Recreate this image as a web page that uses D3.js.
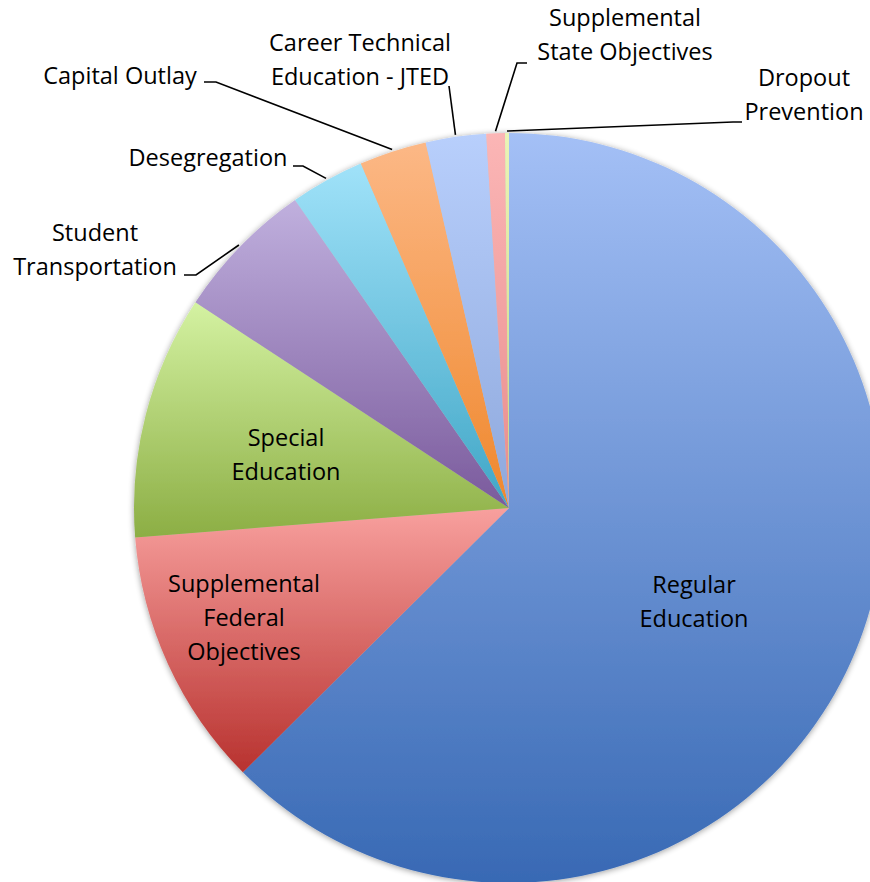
<!DOCTYPE html>
<html>
<head>
<meta charset="utf-8">
<script src="https://cdn.jsdelivr.net/npm/d3@7"></script>
<style>
  body { margin: 0; background: #fff; }
  svg { display: block; }
  .lbl { font-family: "Open Sans", sans-serif; font-size: 23.5px; fill: #000; }
  .leader { fill: none; stroke: #000; stroke-width: 1.6; }
</style>
</head>
<body>
<div id="chart"></div>
<script>
// Budget share by program (percent)
const categories = [
  "Regular Education",
  "Supplemental Federal Objectives",
  "Special Education",
  "Student Transportation",
  "Desegregation",
  "Capital Outlay",
  "Career Technical Education - JTED",
  "Supplemental State Objectives",
  "Dropout Prevention"
];
const values = [62.6, 11.2, 10.5, 6.1, 3.2, 2.9, 2.6, 0.8, 0.17];
const labelLines = [
  ["Regular", "Education"],
  ["Supplemental", "Federal", "Objectives"],
  ["Special", "Education"],
  ["Student", "Transportation"],
  ["Desegregation"],
  ["Capital Outlay"],
  ["Career Technical", "Education - JTED"],
  ["Supplemental", "State Objectives"],
  ["Dropout", "Prevention"]
];

// gradient top / bottom colours per slice
const colorsTop = ["#a4c0f6", "#f8a09e", "#d4f2a2", "#c0b0de", "#a0e2f9", "#fcb886", "#b8cffc", "#fbb6b6", "#eaf4b6"];
const colorsBottom = ["#3869b4", "#b8322f", "#8cae44", "#7a5a9c", "#40a6c6", "#ef872c", "#8ea8dc", "#e88c8c", "#c8d884"];

// label placement (text centre x, first line y, elbow points of leader)
const labelPos = [
  { x: 694, y: 585, leader: null },
  { x: 244, y: 584, leader: null },
  { x: 286, y: 438, leader: null },
  { x: 95, y: 233, leader: [[184, 275], [196, 275]] },
  { x: 208, y: 158, leader: [[293, 166], [303, 166]] },
  { x: 120, y: 76, leader: [[204, 82], [216, 82]] },
  { x: 360, y: 43, leader: [[449, 86]] },
  { x: 625, y: 18, leader: [[527, 63], [517, 63]] },
  { x: 804, y: 78, leader: [[742, 122], [733, 122]] }
];

const width = 870, height = 882;
const cx = 509, cy = 508, radius = 375;
const lineH = 34;

const svg = d3.select("#chart").append("svg")
  .attr("width", width)
  .attr("height", height);

const defs = svg.append("defs");

const shadow = defs.append("filter").attr("id", "shadow")
  .attr("x", "-10%").attr("y", "-10%").attr("width", "120%").attr("height", "120%");
shadow.append("feGaussianBlur").attr("in", "SourceAlpha").attr("stdDeviation", 3);
shadow.append("feOffset").attr("dx", 0).attr("dy", 1).attr("result", "blur");
shadow.append("feComponentTransfer").append("feFuncA").attr("type", "linear").attr("slope", 0.4);
const merge = shadow.append("feMerge");
merge.append("feMergeNode");
merge.append("feMergeNode").attr("in", "SourceGraphic");

categories.forEach((c, i) => {
  const g = defs.append("linearGradient").attr("id", "grad" + i)
    .attr("x1", 0).attr("y1", 0).attr("x2", 0).attr("y2", 1);
  g.append("stop").attr("offset", "0%").attr("stop-color", colorsTop[i]);
  g.append("stop").attr("offset", "100%").attr("stop-color", colorsBottom[i]);
});

const data = categories.map((c, i) => ({ name: c, value: values[i], i: i }));

const pie = d3.pie().sort(null).value(d => d.value);
const arcs = pie(data);

const arc = d3.arc().innerRadius(0).outerRadius(radius);
const edgeArc = d3.arc().innerRadius(radius + 2).outerRadius(radius + 2);

const g = svg.append("g").attr("transform", `translate(${cx},${cy})`);

g.append("g").attr("filter", "url(#shadow)")
  .selectAll("path")
  .data(arcs)
  .enter()
  .append("path")
  .attr("d", arc)
  .attr("fill", d => `url(#grad${d.data.i})`);

// leader lines
arcs.forEach(d => {
  const pos = labelPos[d.data.i];
  if (!pos.leader) return;
  const e = edgeArc.centroid(d);
  const pts = pos.leader.concat([[cx + e[0], cy + e[1]]]);
  svg.append("path")
    .attr("class", "leader")
    .attr("d", d3.line()(pts));
});

// labels
data.forEach(d => {
  const pos = labelPos[d.i];
  const t = svg.append("text")
    .attr("class", "lbl")
    .attr("text-anchor", "middle");
  labelLines[d.i].forEach((ln, k) => {
    t.append("tspan")
      .attr("x", pos.x)
      .attr("y", pos.y + k * lineH)
      .attr("dy", "0.35em")
      .text(ln);
  });
});
</script>
</body>
</html>
